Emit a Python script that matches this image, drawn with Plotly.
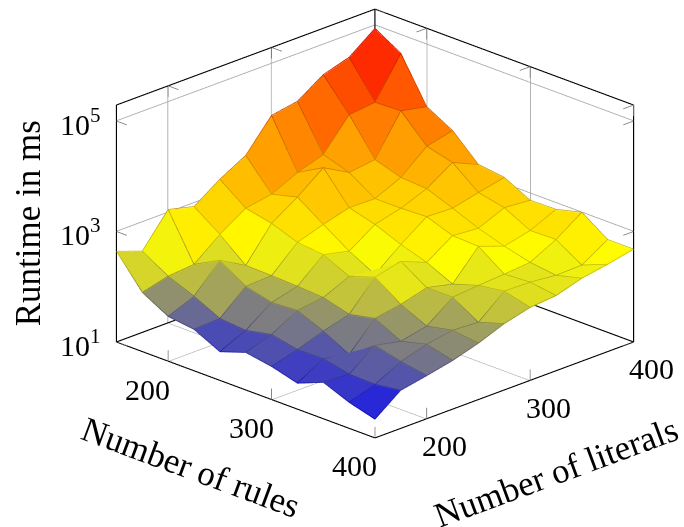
import plotly.graph_objects as go

# Axis values
rules = [150, 175, 200, 225, 250, 275, 300, 325, 350, 375, 400]
literals = [150, 175, 200, 225, 250, 275, 300, 325, 350, 375, 400]
tick_rules = [200, 300, 400]
tick_literals = [200, 300, 400]
tick_exponents = [1, 3, 5]

# log10(runtime in ms); one row per rules value, one column per literals value
log_runtime = [
    [2.63, 2.46, 3.04, 2.92, 3.24, 3.50, 4.05, 4.13, 4.44, 4.58, 4.93],
    [2.06, 2.18, 2.22, 2.59, 2.89, 2.97, 3.19, 3.34, 3.89, 3.94, 4.65],
    [1.80, 1.99, 2.47, 2.20, 2.79, 3.09, 3.45, 3.19, 3.25, 3.96, 3.86],
    [1.74, 1.76, 2.17, 2.19, 2.62, 2.77, 2.90, 2.89, 3.10, 3.49, 3.60],
    [1.51, 1.72, 2.05, 2.17, 2.57, 2.46, 2.77, 2.89, 3.07, 3.37, 3.16],
    [1.67, 1.82, 2.08, 2.14, 2.35, 2.21, 2.58, 2.91, 2.89, 3.00, 3.10],
    [1.59, 1.72, 1.88, 2.01, 2.51, 2.62, 2.43, 2.74, 2.70, 2.90, 2.86],
    [1.46, 1.73, 1.63, 2.11, 2.19, 2.32, 2.21, 2.72, 2.55, 2.66, 2.87],
    [1.65, 1.62, 1.97, 1.87, 1.97, 2.32, 2.36, 2.39, 2.43, 2.67, 2.99],
    [1.46, 1.61, 1.85, 1.99, 2.07, 2.04, 2.43, 2.42, 2.37, 2.38, 2.67],
    [1.33, 1.68, 1.77, 1.87, 2.01, 2.19, 2.31, 2.35, 2.49, 2.57, 2.67],
]

X_RANGE = [150, 400]
Y_RANGE = [150, 400]
Z_RANGE = [1, 5.29]
PAD_XY, PAD_Z = 0.3, 0.006
COLORMAP = [(0, 0, 255), (255, 255, 0), (255, 128, 0), (255, 0, 0)]
SERIF = "Liberation Serif"
TICK_SIZE = 30
TITLE_SIZE = 35

n_r, n_l = len(rules), len(literals)
zmin_data = min(min(r) for r in log_runtime)
zmax_data = max(max(r) for r in log_runtime)


def cmap(t, factor=1.0):
    t = max(0.0, min(1.0, t)) * (len(COLORMAP) - 1)
    k = min(int(t), len(COLORMAP) - 2)
    f = t - k
    c = [(COLORMAP[k][m] * (1 - f) + COLORMAP[k + 1][m] * f) * factor for m in range(3)]
    return "rgb(%d,%d,%d)" % tuple(round(v) for v in c)


vx, vy, vz = [], [], []
for a in range(n_r):
    for b in range(n_l):
        vx.append(rules[a])
        vy.append(literals[b])
        vz.append(log_runtime[a][b])

ti, tj, tk, face = [], [], [], []
for a in range(n_r - 1):
    for b in range(n_l - 1):
        p00 = a * n_l + b
        p01 = a * n_l + b + 1
        p10 = (a + 1) * n_l + b
        p11 = (a + 1) * n_l + b + 1
        mean = (log_runtime[a][b] + log_runtime[a][b + 1] + log_runtime[a + 1][b] + log_runtime[a + 1][b + 1]) / 4
        col = cmap((mean - zmin_data) / (zmax_data - zmin_data))
        ti += [p00, p00]
        tj += [p01, p11]
        tk += [p11, p10]
        face += [col, col]

fig = go.Figure()
fig.add_trace(go.Mesh3d(
    x=vx, y=vy, z=vz, i=ti, j=tj, k=tk, facecolor=face, flatshading=True,
    lighting=dict(ambient=1, diffuse=0, specular=0, fresnel=0, roughness=1),
    hoverinfo="skip", showscale=False,
))

# Facet outlines, a darker shade of the colormap
edge_scale = [[k / 3, cmap(k / 3, 0.78)] for k in range(4)]
LIFT = 0.012


def edge(xs, ys, zs):
    fig.add_trace(go.Scatter3d(
        x=xs, y=ys, z=[v + LIFT for v in zs], mode="lines", hoverinfo="skip", showlegend=False,
        line=dict(width=1.5, color=zs, colorscale=edge_scale, cmin=zmin_data, cmax=zmax_data),
    ))


for a in range(n_r):
    edge([rules[a]] * n_l, literals, log_runtime[a])
for b in range(n_l):
    edge(rules, [literals[b]] * n_r, [log_runtime[a][b] for a in range(n_r)])


def segs(items, color, width):
    xs, ys, zs = [], [], []
    for p, q in items:
        xs += [p[0], q[0], None]
        ys += [p[1], q[1], None]
        zs += [p[2], q[2], None]
    fig.add_trace(go.Scatter3d(x=xs, y=ys, z=zs, mode="lines", hoverinfo="skip", showlegend=False,
                               connectgaps=False, line=dict(color=color, width=width)))


x0, x1 = X_RANGE
y0, y1 = Y_RANGE
z0, z1 = Z_RANGE
segs([
    ((x0, y0, z1), (x0, y1, z1)), ((x0, y1, z1), (x1, y1, z1)),
    ((x0, y0, z0), (x1, y0, z0)), ((x1, y0, z0), (x1, y1, z0)),
    ((x0, y0, z0), (x0, y1, z0)), ((x0, y1, z0), (x1, y1, z0)),
    ((x0, y0, z0), (x0, y0, z1)), ((x1, y1, z0), (x1, y1, z1)),
    ((x0, y1, z0), (x0, y1, z1)),
], "#000000", 2.2)

TL, TZ = 10, 0.2
ticks = []
for v in tick_rules:
    ticks += [((v, y0, z0), (v, y0, z0 + TZ)), ((v, y1, z1), (v, y1, z1 - TZ)), ((v, y1, z1), (v, y1 - TL, z1))]
for v in tick_literals:
    ticks += [((x1, v, z0), (x1, v, z0 + TZ)), ((x0, v, z1), (x0, v, z1 - TZ)), ((x0, v, z1), (x0 + TL, v, z1))]
for e in tick_exponents:
    ticks += [((x0, y0, e), (x0 + TL, y0, e)), ((x1, y1, e), (x1, y1 - TL, e))]
segs(ticks, "#777777", 1.6)

annotations = []


def label(x, y, z, text, dx, dy, size, angle=0, anchor="center"):
    annotations.append(dict(x=x, y=y, z=z, text=text, showarrow=False, xanchor=anchor, yanchor="middle",
                            xshift=dx, yshift=-dy, textangle=angle,
                            font=dict(family=SERIF, size=size, color="black")))


for v in tick_rules:
    label(v, y0, z0, str(v), -20, 28, TICK_SIZE)
for v in tick_literals:
    label(x1, v, z0, str(v), 18, 27, TICK_SIZE)
for e in tick_exponents:
    label(x0, y0, e, "10<sup>%d</sup>" % e, -13, 1, TICK_SIZE, anchor="right")
label(275, y0, z0, "Number of rules", -55, 78, TITLE_SIZE, angle=20.3)
label(x1, 275, z0, "Number of literals", 52, 83, TITLE_SIZE, angle=-20.3)
label(x0, y0, 3.15, "Runtime in ms", -88, 0, TITLE_SIZE, angle=-90)

common = dict(title="", showbackground=False, showticklabels=False, ticks="", showline=False,
              zeroline=False, showspikes=False, gridcolor="#a8a8a8", gridwidth=1.8, autorange=False)

fig.update_layout(
    width=684, height=527, margin=dict(l=0, r=0, t=0, b=0), paper_bgcolor="white", showlegend=False,
    scene=dict(
        domain=dict(x=[0.096, 1.0], y=[0.152, 1.0]),
        xaxis=dict(range=[x0 - PAD_XY, x1 + PAD_XY], tickvals=tick_rules, **common),
        yaxis=dict(range=[y0 - PAD_XY, y1 + PAD_XY], tickvals=tick_literals, **common),
        zaxis=dict(range=[z0 - PAD_Z, z1 + PAD_Z], tickvals=tick_exponents, **common),
        aspectmode="manual", aspectratio=dict(x=1.64, y=1.64, z=1.145),
        camera=dict(eye=dict(x=1.2, y=-1.2, z=0.678), center=dict(x=0, y=0, z=0), up=dict(x=0, y=0, z=1),
                    projection=dict(type="orthographic")),
        annotations=annotations,
    ),
)

fig.write_html("out.html", config=dict(displayModeBar=False),
               post_script="document.body.style.margin='0';document.body.style.overflow='hidden';")
